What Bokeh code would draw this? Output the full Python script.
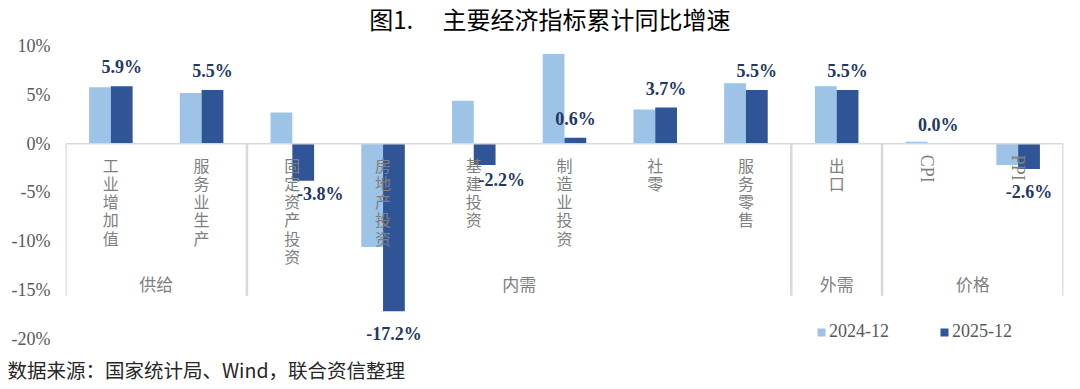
import numpy as np
from bokeh.plotting import figure
from bokeh.models import (Range1d, FixedTicker, PrintfTickFormatter, Span, Legend,
                          LegendItem, Title, ColumnDataSource)
from bokeh.core.properties import value
from bokeh.embed import file_html
from bokeh.resources import INLINE

# ---------------- data ----------------
categories = ["工业增加值", "服务业生产", "固定资产投资", "房地产投资", "基建投资",
              "制造业投资", "社零", "服务零售", "出口", "CPI", "PPI"]
s2024 = [5.8, 5.2, 3.2, -10.6, 4.4, 9.2, 3.5, 6.2, 5.9, 0.2, -2.2]
s2025 = [5.9, 5.5, -3.8, -17.2, -2.2, 0.6, 3.7, 5.5, 5.5, 0.0, -2.6]
series_names = ["2024-12", "2025-12"]
groups = ["供给", "内需", "外需", "价格"]
group_sizes = [2, 6, 1, 2]
y_ticks = [-20, -15, -10, -5, 0, 5, 10]
title_text = "图1.　  主要经济指标累计同比增速"
source_text = "数据来源：国家统计局、Wind，联合资信整理"

# ---------------- style ----------------
C_LIGHT = "#9DC3E6"
C_DARK = "#2F5597"
C_LABEL = "#1F3864"
C_GRAY = "#7F7F7F"
C_TICK = "#595959"
C_LINE = "#D9D9D9"
BAR_W = 0.24
W, H = 1080, 389
BORDER_L, BORDER_R = 65, 17
BORDER_B = 41
PX_PER_UNIT = 9.8          # vertical pixels per 1 percentage point
ZERO_Y = 144               # canvas row of the 0% line
# per-label pixel nudges (style, not data)
label_dx_px = [0, 0, 17, 0, 17, 0, 0, 0, 0, 0, 0]
label_dy_special = {2: 13, 4: 15}

n = len(categories)
idx = np.arange(n)
centers = idx + 0.5

frame_bottom = H - BORDER_B
y_top = ZERO_Y / PX_PER_UNIT
y_bot = -(frame_bottom - ZERO_Y) / PX_PER_UNIT
x_unit = (W - BORDER_L - BORDER_R) / n

p = figure(width=W, height=H, x_range=Range1d(0, n), y_range=Range1d(y_bot, y_top),
           output_backend="svg", toolbar_location=None,
           min_border_left=BORDER_L, min_border_right=BORDER_R,
           min_border_top=0, min_border_bottom=BORDER_B, x_axis_type=None)
p.background_fill_color = "white"
p.border_fill_color = "white"
p.outline_line_color = None
p.grid.visible = False

# y axis
yax = p.yaxis[0]
yax.ticker = FixedTicker(ticks=y_ticks)
yax.formatter = PrintfTickFormatter(format="%d%%")
yax.axis_line_color = None
yax.major_tick_line_color = None
yax.minor_tick_line_color = None
yax.major_tick_out = 0
yax.major_tick_in = 0
yax.major_label_standoff = 15
yax.major_label_text_font = "Liberation Serif"
yax.major_label_text_font_size = "18px"
yax.major_label_text_color = C_TICK

# bars
src = ColumnDataSource(dict(x1=centers - BAR_W / 2, x2=centers + BAR_W / 2,
                            a=s2024, b=s2025))
r1 = p.vbar(x="x1", width=BAR_W, bottom=0, top="a", source=src,
            fill_color=C_LIGHT, line_color=None)
r2 = p.vbar(x="x2", width=BAR_W, bottom=0, top="b", source=src,
            fill_color=C_DARK, line_color=None)

# zero axis line
p.add_layout(Span(location=0, dimension="width", line_color=C_LINE, line_width=1.5))

# group separators
bounds = np.concatenate([[0], np.cumsum(group_sizes)])
p.segment(x0=bounds, x1=bounds, y0=[0] * len(bounds), y1=[-15.6] * len(bounds),
          line_color=C_LINE, line_width=2.5)

# group labels
gmid = (bounds[:-1] + bounds[1:]) / 2
p.text(x=gmid, y=[-14.4] * len(groups), text=groups,
       text_font=value("Noto Sans CJK SC"), text_font_size="17px",
       text_color=C_GRAY, text_align="center", text_baseline="middle")

# category labels (vertical stacked CJK, rotated latin)
cjk = [i for i, c in enumerate(categories) if not c.isascii()]
lat = [i for i, c in enumerate(categories) if c.isascii()]
p.text(x=centers[cjk], y=[0] * len(cjk), text=["\n".join(categories[i]) for i in cjk],
       text_font=value("Noto Sans CJK SC"), text_font_size="16px",
       text_color=C_GRAY, text_align="center", text_baseline="top",
       text_line_height=0.76, y_offset=9)
p.text(x=centers[lat], y=[0] * len(lat), text=[categories[i] for i in lat],
       text_font=value("Liberation Serif"), text_font_size="18px",
       text_color=C_GRAY, text_align="left", text_baseline="middle",
       angle=-np.pi / 2, y_offset=11)

# data labels for the latest series
ly_off = []
for i, v in enumerate(s2025):
    if i in label_dy_special:
        ly_off.append(label_dy_special[i])
    elif v >= 0:
        ly_off.append(-19)
    else:
        ly_off.append(23)
p.text(x=centers + BAR_W / 2, y=s2025, text=[f"{v:.1f}%" for v in s2025],
       x_offset=label_dx_px, y_offset=ly_off,
       text_font=value("Liberation Serif"), text_font_style="bold", text_font_size="18px",
       text_color=C_LABEL, text_align="center", text_baseline="middle")

# legend
legend = Legend(items=[LegendItem(label=series_names[0], renderers=[r1]),
                       LegendItem(label=series_names[1], renderers=[r2])],
                orientation="horizontal", location=(751, 4),
                glyph_width=10, glyph_height=10, label_standoff=3, spacing=50,
                padding=0, margin=0, border_line_color=None, background_fill_alpha=0,
                label_text_font="Liberation Serif", label_text_font_size="18px",
                label_text_color=C_TICK)
p.add_layout(legend)

# chart title (inside the frame, top band)
p.text(x=[(552 - BORDER_L) / x_unit], y=[(ZERO_Y - 18) / PX_PER_UNIT], text=[title_text],
       text_font=value("Noto Sans CJK SC"), text_font_size="24px",
       text_color="#000000", text_align="center", text_baseline="middle")

# source note below the frame
p.add_layout(Title(text=source_text, align="left", offset=-58, standoff=12,
                   text_font="Noto Sans CJK SC", text_font_size="19.5px",
                   text_font_style="normal", text_color="#262626"), "below")

open("out.html", "w").write(file_html(p, INLINE))
